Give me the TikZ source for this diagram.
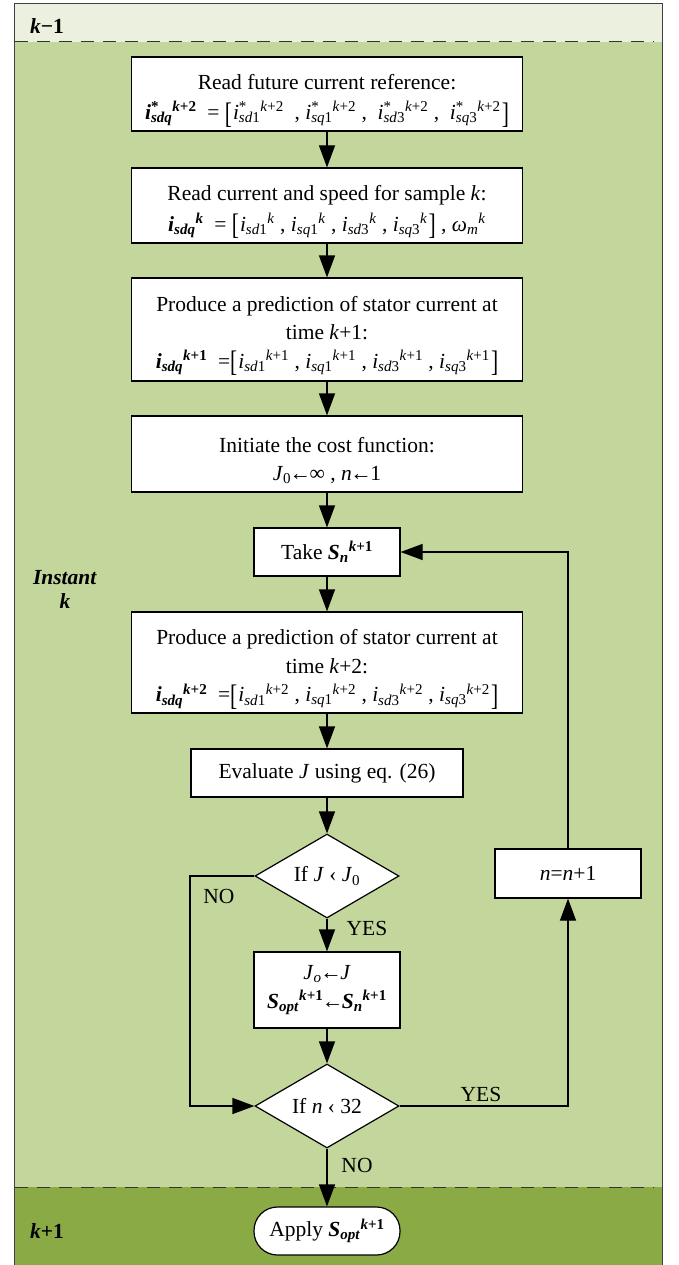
\documentclass[tikz,border=0pt]{standalone}
\usepackage{fontspec}
\usepackage{graphicx}
\setmainfont{Liberation Serif}
\usetikzlibrary{arrows.meta,shapes.geometric}
\definecolor{bandtop}{HTML}{EBF1DE}
\definecolor{bandmid}{HTML}{C3D69B}
\definecolor{bandbot}{HTML}{8AAA46}
\definecolor{framec}{HTML}{404040}
\newcommand{\mainfnt}{\fontsize{21.5}{28.5}\selectfont}
\newcommand{\bi}[1]{\textbf{\textit{#1}}}
\newcommand{\vsub}[1]{\textsubscript{#1}}
\newcommand{\vsup}[1]{\textsuperscript{#1}}
\newcommand{\lbr}{\raisebox{-3.5pt}{\scalebox{1}[1.38]{[}}}
\newcommand{\rbr}{\raisebox{-3.5pt}{\scalebox{1}[1.38]{]}}}
\newcommand{\brk}[1]{\lbr\kern1pt#1\kern1pt\rbr}
\newcommand{\larr}{\kern-1.5pt←\kern-1.5pt}
\newcommand{\topstrut}[1]{\rule{0pt}{#1}}
\newcommand{\iq}[3]{\textit{i}\vsub{\textit{#1}#2}\vsup{#3}}
\newcommand{\iqs}[3]{\textit{i}\rlap{\vsup{*}}\vsub{\textit{#1}#2}\vsup{#3}}
\newcommand{\biq}[1]{\bi{i}\vsub{\bi{sdq}}\vsup{#1}}
\newcommand{\biqs}[1]{\bi{i}\rlap{\vsup{\textbf{*}}}\vsub{\bi{sdq}}\vsup{#1}}
\begin{document}
\begin{tikzpicture}[x=1pt,y=-1pt,
  box/.style={draw=black, fill=white, line width=1.2pt, inner sep=2pt, align=center, font=\mainfnt},
  wide/.style={box, minimum width=391pt},
  dia/.style={draw=black, fill=white, diamond, minimum width=144pt, minimum height=84pt, inner sep=0pt, shape aspect=1.7, line width=1.2pt, font=\mainfnt},
  arr/.style={-{Triangle[length=22pt,width=16pt]}, line width=1.2pt},
  lbl/.style={font=\mainfnt, inner sep=0pt},
  dashln/.style={dash pattern=on 13pt off 9pt, line width=1pt, black!80}]
\useasboundingbox (0,0) rectangle (678,1265);
\clip (0,0) rectangle (678,1265);
% bands
\fill[bandtop] (14,3.5) rectangle (662,42);
\fill[bandmid] (14,42) rectangle (662,1187);
\fill[bandbot] (14,1187) rectangle (662,1270);
\draw[dashln] (15,42) -- (654,42);
\draw[dashln] (15,1187) -- (654,1187);
\draw[framec, line width=1pt] (14,1275) -- (14,3.5) -- (662,3.5) -- (662,1275);
% side labels
\node[lbl] (km1) at (47,26) {\bi{k}\textbf{−1}};
\node[lbl, align=center, font=\fontsize{21.5}{24}\selectfont] (inst) at (65,589) {\bi{Instant}\\\bi{k}};
\node[lbl] (kp1) at (47,1231) {\bi{k}\textbf{+1}};
% nodes
\node[wide, minimum height=74pt] (B1) at (327,94) {\topstrut{28pt}Read future current reference:\\[2pt]
  \biqs{\bi{k}\textbf{+2}}\ \ = \brk{\iqs{sd}{1}{\textit{k}+2}\ \ ,\ \iqs{sq}{1}{\textit{k}+2}\ ,\ \ \iqs{sd}{3}{\textit{k}+2}\ ,\ \ \iqs{sq}{3}{\textit{k}+2}}};
\node[wide, minimum height=75pt] (B2) at (327,205.5) {\topstrut{28pt}Read current and speed for sample \textit{k}:\\[2pt]
  \biq{\bi{k}}\ \ = \brk{\iq{sd}{1}{\textit{k}}\ , \iq{sq}{1}{\textit{k}}\ , \iq{sd}{3}{\textit{k}}\ , \iq{sq}{3}{\textit{k}}} , \textit{ω}\vsub{\textit{m}}\vsup{\textit{k}}};
\node[wide, minimum height=103pt] (B3) at (327,329.5) {\topstrut{28pt}Produce a prediction of stator current at\\
  time \textit{k}+1:\\
  \biq{\bi{k}\textbf{+1}}\ \ =\brk{\iq{sd}{1}{\textit{k}+1} , \iq{sq}{1}{\textit{k}+1} , \iq{sd}{3}{\textit{k}+1} , \iq{sq}{3}{\textit{k}+1}}};
\node[wide, minimum height=76pt] (B4) at (327,454) {\topstrut{28pt}Initiate the cost function:\\
  \textit{J}\vsub{0}\larr∞ , \textit{n}\larr1};
\node[box, minimum width=146pt, minimum height=48pt] (B5) at (327,552) {Take \bi{S}\vsub{\bi{n}}\vsup{\bi{k}\textbf{+1}}};
\node[wide, minimum height=101pt] (B6) at (327,662.5) {\topstrut{29pt}Produce a prediction of stator current at\\
  time \textit{k}+2:\\
  \biq{\bi{k}\textbf{+2}}\ \ =\brk{\iq{sd}{1}{\textit{k}+2} , \iq{sq}{1}{\textit{k}+2} , \iq{sd}{3}{\textit{k}+2} , \iq{sq}{3}{\textit{k}+2}}};
\node[box, minimum width=272pt, minimum height=48pt] (B7) at (327,773) {Evaluate \textit{J} using eq. (26)};
\node[dia] (D1) at (327,876) {If \textit{J} ‹ \textit{J}\vsub{0}};
\node[box, minimum width=146pt, minimum height=76pt] (B8) at (327,990) {\textit{J}\vsub{\textit{o}}\larr\textit{J}\\
  \bi{S}\vsub{\bi{opt}}\vsup{\bi{k}\textbf{+1}}\larr\bi{S}\vsub{\bi{n}}\vsup{\bi{k}\textbf{+1}}};
\node[dia] (D2) at (327,1106) {If \textit{n} ‹ 32};
\node[box, minimum width=146pt, minimum height=48pt, rounded corners=23.5pt] (P) at (327,1231) {Apply \bi{S}\vsub{\bi{opt}}\vsup{\bi{k}\textbf{+1}}};
\node[box, minimum width=146pt, minimum height=49pt] (N) at (568,873.5) {\textit{n}=\textit{n}+1};
% connectors
\draw[arr] (B1.south) -- (B2.north);
\draw[arr] (B2.south) -- (B3.north);
\draw[arr] (B3.south) -- (B4.north);
\draw[arr] (B4.south) -- (B5.north);
\draw[arr] (B5.south) -- (B6.north);
\draw[arr] (B6.south) -- (B7.north);
\draw[arr] (B7.south) -- (D1.north);
\draw[arr] (D1.south) -- (B8.north);
\draw[arr] (B8.south) -- (D2.north);
\draw[arr] (D2.south) -- (P.north);
\coordinate (cno) at (190,876);
\draw[arr] (D1.west) -- (cno) |- (D2.west);
\draw[arr] (D2.east) -| (N.south);
\draw[arr] (N.north) |- (B5.east);
% branch labels
\node[lbl] (no1) at (219,896) {NO};
\node[lbl] (yes1) at (367,928) {YES};
\node[lbl] (yes2) at (481,1094) {YES};
\node[lbl] (no2) at (357,1165) {NO};
\end{tikzpicture}
\end{document}
